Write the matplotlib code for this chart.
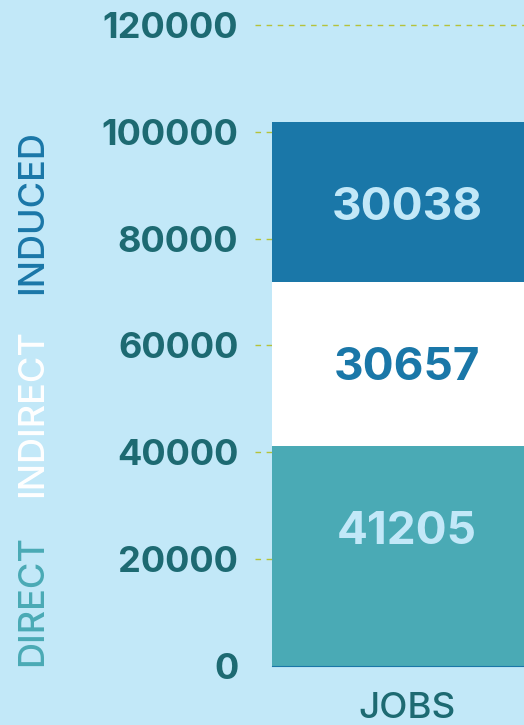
import matplotlib.pyplot as plt

categories = ['DIRECT', 'INDIRECT', 'INDUCED']
values = [41205, 30657, 30038]
bar_label = 'JOBS'
yticks = [0, 20000, 40000, 60000, 80000, 100000, 120000]

bg = '#c2e8f8'
seg_colors = ['#4aaab5', '#ffffff', '#1a77a8']
text_colors = ['#c2e8f8', '#1a77a8', '#c2e8f8']
side_colors = ['#4aaab5', '#ffffff', '#1a77a8']
tick_color = '#1d6a72'

plt.rcParams['font.family'] = ['Inter', 'DejaVu Sans']

fig = plt.figure(figsize=(5.24, 7.25), dpi=100, facecolor=bg)
ax = fig.add_axes([255 / 524, 59 / 725, 304 / 524, 641 / 725])
ax.set_facecolor(bg)

bar_w = 0.888
bottom = 0
for v, c, tc in zip(values, seg_colors, text_colors):
    ax.bar(0, v, bottom=bottom, width=bar_w, color=c, zorder=3)
    ax.annotate(str(v), (0, bottom + v), xytext=(0, -62), textcoords='offset points',
                ha='center', va='center', color=tc, fontsize=33, fontweight='bold', zorder=4)
    bottom += v

ax.set_xlim(-0.5, 0.5)
ax.set_ylim(0, 120000)
ax.set_yticks(yticks)
ax.set_yticklabels([str(t) for t in yticks], fontsize=26, fontweight='bold', color=tick_color)
ax.tick_params(axis='y', length=0, pad=12)
ax.set_xticks([])
ax.grid(axis='y', color='#b5c23a', linestyle=(0, (4, 4)), linewidth=1.0, zorder=1)
for gl in ax.get_ygridlines():
    gl.set_clip_on(False)
ax.get_ygridlines()[0].set_visible(False)
for s in ['left', 'right', 'top']:
    ax.spines[s].set_visible(False)
ax.spines['bottom'].set_color('#1a77a8')
ax.spines['bottom'].set_bounds(-bar_w / 2, 0.5)
ax.spines['bottom'].set_zorder(5)

# side labels
side_y = [600, 413, 212]
for name, c, yp in zip(categories, side_colors, side_y):
    fig.text(33 / 524, 1 - yp / 725, name, rotation=90, ha='center', va='center',
             color=c, fontsize=26, fontweight='medium')

fig.text(407 / 524, 1 - 708 / 725, bar_label, ha='center', va='center',
         color=tick_color, fontsize=26.5, fontweight='medium')

plt.savefig('out.png', dpi=100, facecolor=bg)
